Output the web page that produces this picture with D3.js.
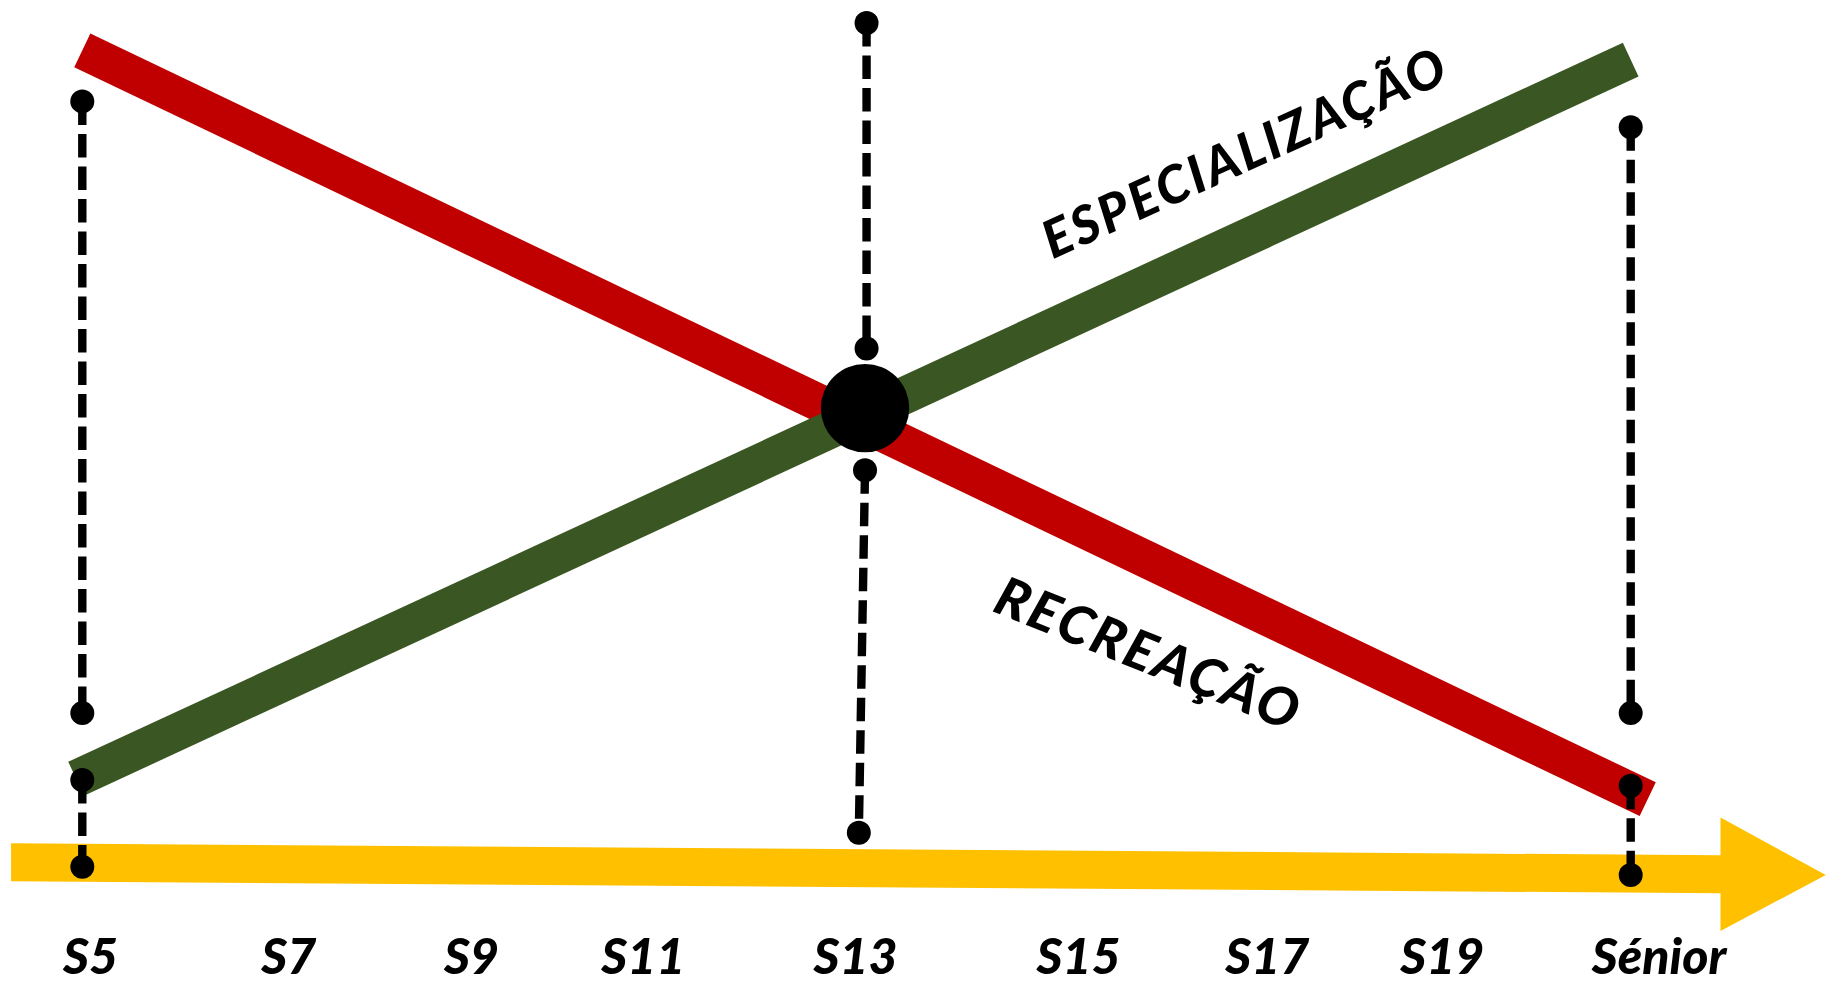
<!DOCTYPE html>
<html>
<head>
<meta charset="utf-8">
<script src="https://cdn.jsdelivr.net/npm/d3@7"></script>
<style>
  html, body { margin: 0; padding: 0; background: #fff; }
  svg { display: block; }
  .lbl { font-family: Lato, "Open Sans", sans-serif; font-weight: 900; font-style: italic; fill: #000; }
</style>
</head>
<body>
<svg id="chart" width="1826" height="986"></svg>
<script>
// stages along the time axis and where their labels sit (axis units 0..100)
var stages = ["S5", "S7", "S9", "S11", "S13", "S15", "S17", "S19", "Sénior"];
var stagePos = [0.5, 13.3, 25.1, 36.2, 49.9, 64.3, 76.5, 87.8, 101.8];

// the two trends, [x, y] in axis units
var recreacao = [[0, 96.8], [101.1, 8.9]];
var especializacao = [[-0.4, 11.3], [100, 95.7]];
var seriesNames = ["RECREAÇÃO", "ESPECIALIZAÇÃO"];

// where they meet
var crossing = [50.55, 54.8];

// dashed guides [x1, y1, x2, y2]
var guides = [
  [0, 90.8, 0, 19.0],
  [0, 11.15, 0, 0.97],
  [50.65, 100, 50.65, 61.8],
  [50.55, 47.5, 50.15, 4.95],
  [100, 87.76, 100, 19.0],
  [100, 10.48, 100, 0]
];

// time arrow: start and tip
var timeAxis = [[-4.6, 1.5], [112.6, 0]];

var svg = d3.select("#chart");
svg.append("rect").attr("width", 1826).attr("height", 986).attr("fill", "#fff");

var x = d3.scaleLinear().domain([0, 100]).range([82.3, 1630.7]);
var y = d3.scaleLinear().domain([0, 100]).range([875, 23]);

// yellow arrow
var ax0 = x(timeAxis[0][0]), ay0 = y(timeAxis[0][1]);
var ax1 = x(timeAxis[1][0]), ay1 = y(timeAxis[1][1]);
var headLen = 105.3, shaftHalf = 19, headHalf = 56.7;
var sx = ax1 - headLen;
var sy = ay0 + (ay1 - ay0) * (sx - ax0) / (ax1 - ax0);
svg.append("path")
  .attr("d", d3.line()([
    [ax0, ay0 - shaftHalf], [sx, sy - shaftHalf], [sx, sy - headHalf],
    [ax1, ay1], [sx, sy + headHalf], [sx, sy + shaftHalf], [ax0, ay0 + shaftHalf]
  ]) + "Z")
  .attr("fill", "#FFC000");

// trend lines
var line = d3.line().x(function (d) { return x(d[0]); }).y(function (d) { return y(d[1]); });
svg.append("path").datum(recreacao)
  .attr("d", line).attr("fill", "none")
  .attr("stroke", "#C00000").attr("stroke-width", 37.4).attr("stroke-linecap", "butt");
svg.append("path").datum(especializacao)
  .attr("d", line).attr("fill", "none")
  .attr("stroke", "#3A5723").attr("stroke-width", 37.4).attr("stroke-linecap", "butt");

// crossing point
svg.append("circle")
  .attr("cx", x(crossing[0])).attr("cy", y(crossing[1])).attr("r", 44.2)
  .attr("fill", "#000");

// dashed guides with dot ends
var g = svg.append("g");
g.selectAll("line.guide")
  .data(guides)
  .enter()
  .append("line")
  .attr("class", "guide")
  .attr("x1", function (d) { return x(d[0]); })
  .attr("y1", function (d) { return y(d[1]); })
  .attr("x2", function (d) { return x(d[2]); })
  .attr("y2", function (d) { return y(d[3]); })
  .attr("stroke", "#000").attr("stroke-width", 8.4)
  .attr("stroke-dasharray", "23.5,9");
var ends = [];
guides.forEach(function (d) { ends.push([d[0], d[1]], [d[2], d[3]]); });
g.selectAll("circle.end")
  .data(ends)
  .enter()
  .append("circle")
  .attr("class", "end")
  .attr("cx", function (d) { return x(d[0]); })
  .attr("cy", function (d) { return y(d[1]); })
  .attr("r", 12)
  .attr("fill", "#000");

// stage labels through a bottom axis
var axis = svg.append("g")
  .attr("transform", "translate(0,974)")
  .call(d3.axisBottom(x).tickValues(stagePos).tickSize(0)
    .tickFormat(function (d, i) { return stages[i]; }));
axis.select(".domain").remove();
axis.selectAll(".tick text")
  .attr("class", "lbl")
  .attr("y", 0).attr("dy", 0)
  .attr("font-size", 50)
  .attr("font-family", null)
  .style("fill", "#000");

// series names along their lines
function lineY(s, xv) {
  return s[0][1] + (s[1][1] - s[0][1]) * (xv - s[0][0]) / (s[1][0] - s[0][0]);
}
var nameLabels = [
  { s: recreacao, name: seriesNames[0], at: 68.8, off: 93, angle: 22, size: 54, len: 322 },
  { s: especializacao, name: seriesNames[1], at: 75.0, off: -86, angle: -24.3, size: 52, len: 436 }
];
nameLabels.forEach(function (l) {
  var cx = x(l.at), cy = y(lineY(l.s, l.at)) + l.off;
  svg.append("text")
    .attr("class", "lbl")
    .attr("transform", "translate(" + cx + "," + cy + ") rotate(" + l.angle + ")")
    .attr("text-anchor", "middle")
    .attr("dy", "0.36em")
    .attr("font-size", l.size)
    .attr("textLength", l.len)
    .attr("lengthAdjust", "spacing")
    .text(l.name);
});
</script>
</body>
</html>
